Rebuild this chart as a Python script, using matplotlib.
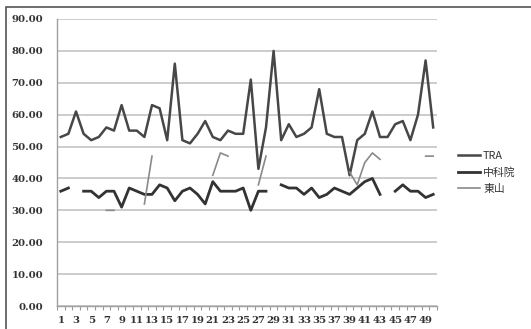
import matplotlib

matplotlib.use("Agg")

import matplotlib.pyplot as plt
import numpy as np
from matplotlib.patches import Rectangle

# category index 1..50
days = list(range(1, 51))

tra = [53, 54, 61, 54, 52, 53, 56, 55, 63, 55,
       55, 53, 63, 62, 52, 76, 52, 51, 54, 58,
       53, 52, 55, 54, 54, 71, 43, 56, 80, 52,
       57, 53, 54, 56, 68, 54, 53, 53, 41, 52,
       54, 61, 53, 53, 57, 58, 52, 60, 77, 56]

cas = [36, 37, None, 36, 36, 34, 36, 36, 31, 37,
       36, 35, 35, 38, 37, 33, 36, 37, 35, 32,
       39, 36, 36, 36, 37, 30, 36, 36, None, 38,
       37, 37, 35, 37, 34, 35, 37, 36, 35, 37,
       39, 40, 35, None, 36, 38, 36, 36, 34, 35]

dongshan = [None, None, None, None, None, None, 30, 30, None, None,
            None, 32, 47, None, None, None, None, None, None, None,
            41, 48, 47, None, None, None, 38, 47, None, None,
            None, None, None, None, None, None, None, None, 42, 38,
            45, 48, 46, None, None, None, None, None, 47, 47]

series_names = ["TRA", "中科院", "東山"]
y_ticks = [0, 10, 20, 30, 40, 50, 60, 70, 80, 90]


def as_array(values):
    return np.array([np.nan if v is None else v for v in values], dtype=float)


fig = plt.figure(figsize=(5.31, 3.29), dpi=100)
ax = fig.add_axes([57 / 531, 1 - 306 / 329, 380 / 531, 287 / 329])

x = np.array(days)
ax.plot(x, as_array(tra), color="#474747", lw=1.8, label=series_names[0])
ax.plot(x, as_array(cas), color="#333333", lw=2.0, label=series_names[1])
ax.plot(x, as_array(dongshan), color="#8a8a8a", lw=1.2, label=series_names[2])

ax.set_xlim(0.5, 50.5)
ax.set_ylim(0, 90)
ax.set_yticks(y_ticks)
ax.set_yticklabels([f"{v:.2f}" for v in y_ticks])
ax.set_xticks(days[::2])
ax.set_xticklabels([str(d) for d in days[::2]])
ax.set_xticks(np.arange(0.5, 51, 1), minor=True)
ax.tick_params(axis="x", which="major", length=0, pad=7)
ax.tick_params(axis="x", which="minor", length=3, color="#9a9a9a", width=0.8)
ax.tick_params(axis="y", length=0, pad=10)
for lab in ax.get_xticklabels() + ax.get_yticklabels():
    lab.set_family("DejaVu Serif")
    lab.set_fontweight("bold")
    lab.set_fontsize(7.3)
    lab.set_color("#333333")

ax.grid(axis="y", color="#c4c4c4", lw=1.2)
ax.set_axisbelow(True)
for side in ("top", "right"):
    ax.spines[side].set_visible(False)
ax.spines["left"].set_color("#a0a0a0")
ax.spines["bottom"].set_color("#a0a0a0")
ax.spines["left"].set_linewidth(1.0)
ax.spines["bottom"].set_linewidth(1.0)

leg = ax.legend(loc="center left", bbox_to_anchor=(1.03, 0.465), frameon=False,
                handlelength=2.0, handletextpad=0.3, labelspacing=0.55,
                prop={"family": ["Noto Sans CJK TC", "DejaVu Sans"], "size": 7.8})
for t in leg.get_texts():
    t.set_color("#333333")

# outer chart border
fig.patches.append(Rectangle((6 / 531, -0.01), 1.0, 1 - 7 / 329 + 0.01,
                             transform=fig.transFigure, fill=False,
                             edgecolor="#555555", lw=1.2))

fig.savefig("out.png", dpi=100)
plt.close(fig)
